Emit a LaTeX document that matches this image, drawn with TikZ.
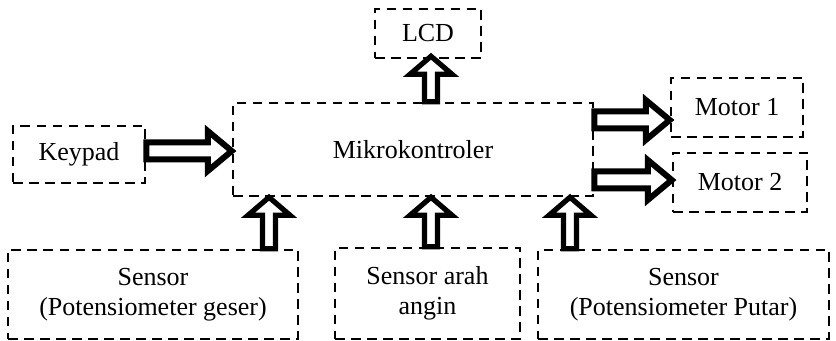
\documentclass[tikz,border=0pt]{standalone}
\usepackage{fontspec}
\setmainfont{Liberation Serif}
\usetikzlibrary{calc}
\tikzset{
  aw/.store in=\aw, ah/.store in=\ah, aH/.store in=\aH,
  aw=3.25pt, ah=9pt, aH=10pt,
  box/.style={draw, line width=1.25pt, dash pattern=on 4.75pt off 3.25pt,
    inner sep=0pt, align=center, font=\fontsize{13}{15}\selectfont},
  fat/.style={draw, fill=white, line join=miter, miter limit=10,
    to path={
      ($(\tikztostart)!\aw!90:(\tikztotarget)$)
      -- ($(\tikztotarget)!\ah!(\tikztostart) + (\tikztostart)!\aw!90:(\tikztotarget) - (\tikztostart)$)
      -- ($(\tikztotarget)!\ah!(\tikztostart) + (\tikztostart)!\aH!90:(\tikztotarget) - (\tikztostart)$)
      -- (\tikztotarget)
      -- ($(\tikztotarget)!\ah!(\tikztostart) + (\tikztostart)!\aH!-90:(\tikztotarget) - (\tikztostart)$)
      -- ($(\tikztotarget)!\ah!(\tikztostart) + (\tikztostart)!\aw!-90:(\tikztotarget) - (\tikztostart)$)
      -- ($(\tikztostart)!\aw!-90:(\tikztotarget)$) -- cycle}},
  varrow/.style={fat, line width=2.6pt, aw=3.25pt, ah=9pt, aH=10.5pt},
  harrow/.style={fat, line width=3pt, aw=4.25pt, ah=12pt, aH=10pt},
}
\begin{document}
\begin{tikzpicture}[x=0.5pt,y=-0.5pt]
\useasboundingbox (0,0) rectangle (836,341);
\node[box, minimum width=53pt, minimum height=24.5pt] (lcd) at (428,33.5) {LCD};
\node[box, minimum width=180pt, minimum height=46.5pt] (mk) at (413,149.5) {Mikrokontroler};
\node[box, minimum width=66pt, minimum height=28.5pt] (keypad) at (79,154.5) {Keypad};
\node[box, minimum width=66pt, minimum height=29.5pt] (m1) at (737,107.5) {Motor 1};
\node[box, minimum width=67pt, minimum height=29.5pt] (m2) at (740,182.5) {Motor 2};
\node[box, minimum width=145pt, minimum height=44.5pt] (s1) at (153,294.5) {Sensor\\(Potensiometer geser)};
\node[box, minimum width=92.5pt, minimum height=45.5pt] (s2) at (427.5,293.5) {Sensor arah\\angin};
\node[box, minimum width=145.5pt, minimum height=44.5pt] (s3) at (683.5,294.5) {Sensor\\(Potensiometer Putar)};
\coordinate (rowK) at (0,151);
\coordinate (rowA) at (0,120);
\coordinate (rowB) at (0,180);
\coordinate (colL) at (431,0);
\coordinate (col1) at (269,0);
\coordinate (col2) at (431,0);
\coordinate (col3) at (570,0);
\draw[harrow] (keypad.east |- rowK) to (mk.west |- rowK);
\draw[harrow] (mk.east |- rowA) to (m1.west |- rowA);
\draw[harrow] (mk.east |- rowB) to (m2.west |- rowB);
\draw[varrow] (mk.north -| colL) to ($(lcd.south -| colL)+(0,-3)$);
\draw[varrow] (s1.north -| col1) to (mk.south -| col1);
\draw[varrow] (s2.north -| col2) to (mk.south -| col2);
\draw[varrow] (s3.north -| col3) to (mk.south -| col3);
\end{tikzpicture}
\end{document}
